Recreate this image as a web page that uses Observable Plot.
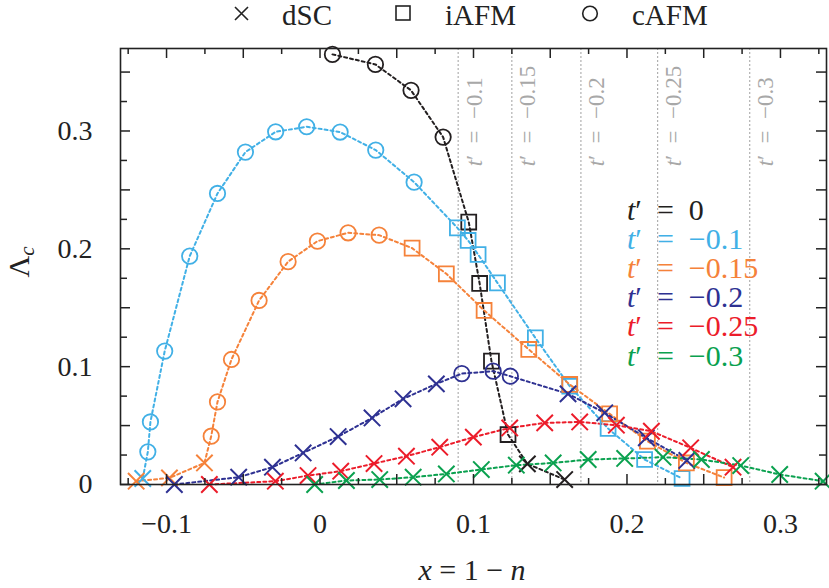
<!DOCTYPE html>
<html><head><meta charset="utf-8">
<script src="https://cdn.jsdelivr.net/npm/d3@7"></script>
<script src="https://cdn.jsdelivr.net/npm/@observablehq/plot@0.6"></script>
<style>
html,body{margin:0;padding:0;background:#fff;}
#chart{width:829px;height:588px;position:relative;}
</style></head><body><div id="chart"></div>
<script>
// ---- data ----
const seriesLabels = ["0", "−0.1", "−0.15", "−0.2", "−0.25", "−0.3"];
const seriesColors = ["#231f20", "#41b0e6", "#f5823a", "#2e3192", "#ec1c2a", "#0aa14f"];

// kinds: o = cAFM, s = iAFM, x = dSC
const x_t0 = [0.0081, 0.0361, 0.0593, 0.0802, 0.0969, 0.1040, 0.1117, 0.1225, 0.1351, 0.1594];
const y_t0 = [0.365, 0.3565, 0.3345, 0.2948, 0.2227, 0.1706, 0.1047, 0.0424, 0.0175, 0.0042];
const k_t0 = "oooossssxx";

const x_t1 = [-0.1155, -0.1122, -0.1105, -0.1012, -0.0849, -0.0668, -0.0486, -0.0289, -0.0087, 0.0131, 0.0363, 0.0613, 0.0895, 0.0965, 0.1030, 0.1156, 0.1403, 0.1627, 0.1877, 0.2115, 0.2359];
const y_t1 = [0.0051, 0.0277, 0.0531, 0.1132, 0.1938, 0.2470, 0.2821, 0.2993, 0.3036, 0.2991, 0.2838, 0.2566, 0.2178, 0.2071, 0.1952, 0.1711, 0.1244, 0.0834, 0.0475, 0.0212, 0.0051];
const k_t1 = "x" + "ooooooooooo" + "sssssssss";

const x_t2 = [-0.1198, -0.0981, -0.0753, -0.0709, -0.0668, -0.0577, -0.0397, -0.0208, -0.0017, 0.0183, 0.0385, 0.0600, 0.0823, 0.1069, 0.1360, 0.1627, 0.1887, 0.2133, 0.2387, 0.2633];
const y_t2 = [0.0028, 0.0056, 0.0183, 0.0410, 0.0701, 0.1061, 0.1562, 0.1891, 0.2065, 0.2136, 0.2116, 0.2006, 0.1788, 0.1477, 0.1146, 0.0849, 0.0599, 0.0368, 0.0183, 0.0059];
const k_t2 = "xxx" + "oooooooo" + "sssssssss";

const x_t3 = [-0.0949, -0.0530, -0.0310, -0.0110, 0.0118, 0.0339, 0.0541, 0.0758, 0.0924, 0.1128, 0.1240, 0.1616, 0.1855, 0.2126, 0.2390];
const y_t3 = [0.0, 0.0062, 0.0147, 0.0268, 0.0407, 0.0565, 0.0727, 0.0854, 0.0941, 0.0962, 0.0919, 0.0769, 0.0608, 0.0396, 0.0204];
const k_t3 = "xxxxxxxx" + "ooo" + "xxxx";

const x_t4 = [-0.0721, -0.0291, -0.0078, 0.0135, 0.0352, 0.0563, 0.0780, 0.0999, 0.1236, 0.1464, 0.1692, 0.1931, 0.2159, 0.2415, 0.2691];
const y_t4 = [0.0, 0.0028, 0.0076, 0.0113, 0.0178, 0.0240, 0.0317, 0.0402, 0.0480, 0.0523, 0.0531, 0.0503, 0.0452, 0.0311, 0.0147];
const k_t4 = "xxxxxxxxxxxxxxx";

const x_t5 = [-0.0035, 0.0172, 0.0389, 0.0607, 0.0823, 0.1051, 0.1279, 0.1519, 0.1747, 0.1985, 0.2235, 0.2485, 0.2741, 0.2995, 0.3278];
const y_t5 = [0.0, 0.0034, 0.0042, 0.0062, 0.0090, 0.0127, 0.0164, 0.0183, 0.0212, 0.0221, 0.0232, 0.0212, 0.0161, 0.0085, 0.0028];
const k_t5 = "xxxxxxxxxxxxxxx";

// vertical guide lines (t' boundaries)
const guideX = [0.09, 0.125, 0.17, 0.22, 0.28];
const guideLabels = ["−0.1", "−0.15", "−0.2", "−0.25", "−0.3"];

const xTickLabels = [-0.1, 0, 0.1, 0.2, 0.3];
const yTickLabels = [0, 0.1, 0.2, 0.3];
const xDomain = [-0.13, 0.33];
const yDomain = [0, 0.37];

// ---- build ----
const FONT = "Liberation Serif";
const SP = "\u2002";
const fmt = d => d === 0 ? "0" : d3.format(".1f")(d).replace("-", "−");

const seriesX = [x_t0, x_t1, x_t2, x_t3, x_t4, x_t5];
const seriesY = [y_t0, y_t1, y_t2, y_t3, y_t4, y_t5];
const seriesK = [k_t0, k_t1, k_t2, k_t3, k_t4, k_t5];

const lineMarks = [], dotMarks = [];
seriesX.forEach((xs, i) => {
  const rows = xs.map((x, j) => ({x, y: seriesY[i][j], k: seriesK[i][j]}));
  const c = seriesColors[i];
  lineMarks.push(Plot.line(rows, {x: "x", y: "y", stroke: c, strokeWidth: 2, strokeDasharray: "3,3"}));
  dotMarks.push(Plot.dot(rows.filter(d => d.k === "o"), {x: "x", y: "y", r: 7.7, stroke: c, strokeWidth: 1.8, fill: "none"}));
  dotMarks.push(Plot.dot(rows.filter(d => d.k === "s"), {x: "x", y: "y", r: 8.4, symbol: "square", stroke: c, strokeWidth: 1.8, fill: "none"}));
  dotMarks.push(Plot.dot(rows.filter(d => d.k === "x"), {x: "x", y: "y", r: 7.5, symbol: "times", stroke: c, strokeWidth: 2, fill: "none"}));
});

const legendMarks = seriesLabels.map((lab, i) =>
  Plot.text([lab], {x: () => 0.2, y: () => 0.2326 - i * 0.0247, text: d => "t′" + SP + "=" + SP + d,
    textAnchor: "start", fill: seriesColors[i], fontSize: 30, fontFamily: FONT}));

const xt = d3.range(-5, 14).map(i => ({v: +(i * 0.025).toFixed(3), major: i % 2 === 0}));
const yt = d3.range(0, 15).map(i => ({v: +(i * 0.025).toFixed(3), major: i % 2 === 0}));
const FH = 588 - 48 - 104, FW = 829 - 120 - 3;
const tk = {stroke: "#222", strokeWidth: 1.5};
const tickMarks = [
  Plot.tickX(xt.filter(d => d.major), {x: "v", insetTop: FH - 10, ...tk}),
  Plot.tickX(xt.filter(d => !d.major), {x: "v", insetTop: FH - 6, ...tk}),
  Plot.tickX(xt.filter(d => d.major), {x: "v", insetBottom: FH - 10, ...tk}),
  Plot.tickX(xt.filter(d => !d.major), {x: "v", insetBottom: FH - 6, ...tk}),
  Plot.tickY(yt.filter(d => d.major), {y: "v", insetRight: FW - 10, ...tk}),
  Plot.tickY(yt.filter(d => !d.major), {y: "v", insetRight: FW - 7, ...tk}),
  Plot.tickY(yt.filter(d => d.major), {y: "v", insetLeft: FW - 10, ...tk}),
  Plot.tickY(yt.filter(d => !d.major), {y: "v", insetLeft: FW - 7, ...tk})
];

const svg = Plot.plot({
  width: 829, height: 588,
  marginTop: 48, marginBottom: 104, marginLeft: 120, marginRight: 3,
  x: {domain: xDomain},
  y: {domain: yDomain},
  style: {fontFamily: FONT, fontSize: "28px", background: "#fff", overflow: "visible", color: "#222"},
  marks: [
    Plot.ruleX(guideX, {stroke: "#a0a0a0", strokeWidth: 1, strokeDasharray: "2,2"}),
    Plot.text(guideX, {x: d => d, y: () => 0.27, text: (d, i) => "t′" + SP + "=" + SP + guideLabels[i],
      rotate: -90, textAnchor: "start", dx: 16, fill: "#a8a8a8", fontSize: 23, fontFamily: FONT}),
    ...lineMarks,
    ...dotMarks,
    ...legendMarks,
    ...tickMarks,
    Plot.frame({stroke: "#222", strokeWidth: 1.6}),
    Plot.axisX({ticks: xTickLabels, tickSize: 0, tickPadding: 29, tickFormat: fmt, label: null, fontSize: 28, fontFamily: FONT}),
    Plot.axisY({ticks: yTickLabels, tickSize: 0, tickPadding: 28, tickFormat: fmt, label: null, fontSize: 28, fontFamily: FONT})
  ]
});

// italic t in t' labels
const NS = "http://www.w3.org/2000/svg";
svg.querySelectorAll("text").forEach(t => {
  const s = t.textContent;
  if (s.startsWith("t′")) {
    t.textContent = "";
    const a = document.createElementNS(NS, "tspan");
    a.setAttribute("font-style", "italic");
    a.textContent = "t";
    t.appendChild(a);
    t.appendChild(document.createTextNode(s.slice(1)));
  }
});

const s = d3.select(svg);
// axis titles
const xl = s.append("text").attr("x", 472).attr("y", 580).attr("text-anchor", "middle")
  .attr("font-family", FONT).attr("font-size", 30).attr("fill", "#222");
xl.append("tspan").attr("font-style", "italic").text("x");
xl.append("tspan").text(" = 1 − ");
xl.append("tspan").attr("font-style", "italic").text("n");

const yl = s.append("text").attr("transform", "translate(29,262) rotate(-90)").attr("text-anchor", "middle")
  .attr("font-family", FONT).attr("font-size", 30).attr("fill", "#222");
yl.append("tspan").text("Λ");
yl.append("tspan").attr("font-style", "italic").attr("font-size", 21).attr("dy", 5).text("c");

// top legend (marker types)
const leg = s.append("g").attr("fill", "none").attr("stroke", "#222").attr("stroke-width", 1.6);
leg.append("path").attr("d", "M235,7L248,20M235,20L248,7");
leg.append("rect").attr("x", 396).attr("y", 6).attr("width", 14).attr("height", 14);
leg.append("circle").attr("cx", 590).attr("cy", 13.5).attr("r", 7.3);
[["dSC", 282], ["iAFM", 445], ["cAFM", 632]].forEach(([t, x]) => {
  s.append("text").attr("x", x).attr("y", 25).attr("text-anchor", "start").attr("font-family", FONT).attr("font-size", 29)
    .attr("fill", "#222").text(t);
});

document.getElementById("chart").appendChild(svg);
</script>
</body></html>
